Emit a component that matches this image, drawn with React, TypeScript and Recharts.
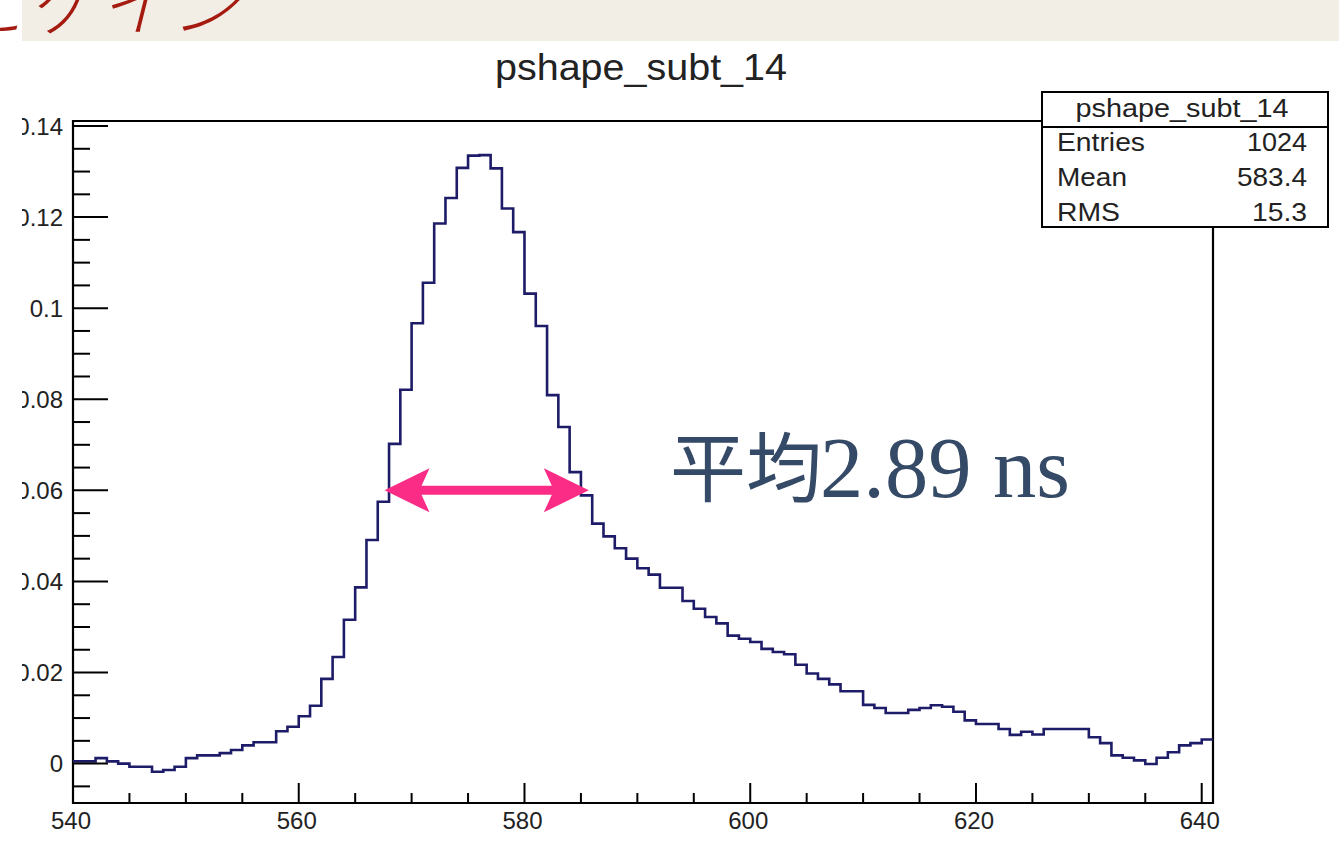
import React from "react";
import { LineChart, Line, XAxis, YAxis, ReferenceArea, ReferenceLine } from "recharts";

// bin contents of pshape_subt_14, one bin per ns
const bins540 = [0.0005, 0.0005, 0.0012, 0.0005, 0.0, -0.0007, -0.0007, -0.0018, -0.0014, -0.0007, 0.0012, 0.0018, 0.0018, 0.0023, 0.003, 0.004, 0.0047, 0.0047, 0.0071, 0.0081];
const bins560 = [0.0104, 0.0127, 0.0186, 0.0234, 0.0316, 0.0387, 0.0491, 0.0575, 0.0702, 0.0821, 0.0967, 0.1056, 0.1186, 0.1242, 0.1308, 0.1335, 0.1336, 0.1307, 0.1219, 0.1167];
const bins580 = [0.1032, 0.0961, 0.0809, 0.0739, 0.064, 0.0589, 0.0527, 0.0499, 0.0473, 0.045, 0.0429, 0.0415, 0.0386, 0.0386, 0.0357, 0.034, 0.0322, 0.0308, 0.0281, 0.0274];
const bins600 = [0.0267, 0.0252, 0.0245, 0.024, 0.0217, 0.0198, 0.0186, 0.0174, 0.0159, 0.0159, 0.0129, 0.0122, 0.0111, 0.0111, 0.0118, 0.0122, 0.0128, 0.0125, 0.0114, 0.0095];
const bins620 = [0.0087, 0.0087, 0.0076, 0.0063, 0.007, 0.0064, 0.0076, 0.0076, 0.0076, 0.0076, 0.0058, 0.0045, 0.0018, 0.0013, 0.0007, -0.0001, 0.0013, 0.0025, 0.004, 0.0045];
const bins640 = [0.0053];

const X_FIRST = 540;
const X_LAST = 641;
const Y_RANGE = [-0.00865, 0.1411];

const xTicks = [540, 545, 550, 555, 560, 565, 570, 575, 580, 585, 590, 595, 600, 605, 610, 615, 620, 625, 630, 635, 640];
const yTicks = [-0.005, 0, 0.005, 0.01, 0.015, 0.02, 0.025, 0.03, 0.035, 0.04, 0.045, 0.05, 0.055, 0.06, 0.065, 0.07, 0.075, 0.08, 0.085, 0.09, 0.095, 0.1, 0.105, 0.11, 0.115, 0.12, 0.125, 0.13, 0.135, 0.14];

const statsLabels = ["Entries", "Mean", "RMS"];
const statsValues = ["1024", "583.4", "15.3"];
// text widths as they appear in the stats box
const statsLabelWidths = [88, 70, 63];
const statsValueWidths = [60, 70, 55];

// FWHM marker
const fwhmFrom = 567.6;
const fwhmTo = 585.7;
const fwhmLevel = 0.06;

const SANS = '"Liberation Sans", Arial, Helvetica, sans-serif';
const LINE = "#1e1c68";
const PINK = "#fb2c86";

const values = [...bins540, ...bins560, ...bins580, ...bins600, ...bins620, ...bins640];
// step outline: each bin starts at its low edge, last row closes the final bin
const data = values.map((v, i) => ({ x: X_FIRST + i, v }));
data.push({ x: X_LAST, v: values[values.length - 1] });

const isMajor = (v: number, step: number) => Math.abs(v / step - Math.round(v / step)) < 1e-6;

const XTick = ({ x, y, payload }: any) => {
  const major = isMajor(payload.value, 20);
  return (
    <g>
      <line x1={x} y1={y} x2={x} y2={y - (major ? 20 : 10)} stroke="#000" strokeWidth={2} />
      {major && (
        <text x={x - 2} y={y + 26} textAnchor="middle" fontSize={24} fontFamily={SANS} fill="#222">
          {payload.value}
        </text>
      )}
    </g>
  );
};

const YTick = ({ x, y, payload }: any) => {
  const major = isMajor(payload.value, 0.02);
  return (
    <g>
      <line x1={x} y1={y} x2={x + (major ? 35 : 17)} y2={y} stroke="#000" strokeWidth={2} />
      {major && payload.value >= 0 && (
        <text x={x - 10} y={y} dy={8.5} textAnchor="end" fontSize={24} fontFamily={SANS} fill="#222">
          {String(+payload.value.toFixed(2))}
        </text>
      )}
    </g>
  );
};

const ArrowShape = (p: any) => {
  const { x1, x2, y1 } = p;
  const y = y1;
  const L = 45;
  const H = 22;
  const n = 8;
  const t = 4.5;
  const d = `M${x1},${y} L${x1 + L},${y - H} L${x1 + L - n},${y - t} L${x2 - L + n},${y - t} L${x2 - L},${y - H} L${x2},${y} L${x2 - L},${y + H} L${x2 - L + n},${y + t} L${x1 + L - n},${y + t} L${x1 + L},${y + H} Z`;
  return <path d={d} fill={PINK} />;
};

export default function App() {
  return (
    <div style={{ position: "absolute", left: 0, top: 0, width: 1339, height: 860, overflow: "hidden", background: "#fff" }}>
      {/* slide title strip */}
      <div style={{ position: "absolute", left: 22, top: 0, width: 1317, height: 41, background: "#f2eee6" }} />
      <svg width={1339} height={41} style={{ position: "absolute", left: 0, top: 0 }}>
        <text x={-44} y={30} fontSize={72} fontStyle="italic" fontWeight={300} fontFamily='"Noto Sans CJK JP", sans-serif' fill="#a51b10">
          とゲイン
        </text>
      </svg>

      {/* ROOT canvas, cropped on the left */}
      <div style={{ position: "absolute", left: 22, top: 41, width: 1317, height: 819, overflow: "hidden" }}>
        <div style={{ position: "absolute", left: -22, top: -41, width: 1339, height: 860 }}>
          <LineChart width={1339} height={860} data={data} margin={{ top: 121, right: 126, bottom: 17, left: 13 }}>
            <XAxis
              type="number"
              dataKey="x"
              domain={[X_FIRST, X_LAST]}
              ticks={xTicks}
              interval={0}
              allowDataOverflow
              axisLine={false}
              tickLine={false}
              tickSize={0}
              tickMargin={0}
              height={40}
              tick={<XTick />}
            />
            <YAxis
              type="number"
              domain={Y_RANGE}
              ticks={yTicks}
              interval={0}
              allowDataOverflow
              axisLine={false}
              tickLine={false}
              tickSize={0}
              tickMargin={0}
              width={60}
              tick={<YTick />}
            />
            <ReferenceArea x1={X_FIRST} x2={X_LAST} y1={Y_RANGE[0]} y2={Y_RANGE[1]} fill="none" fillOpacity={0} stroke="#000" strokeWidth={2.2} />
            <Line dataKey="v" type="stepAfter" stroke={LINE} strokeWidth={2.6} dot={false} isAnimationActive={false} />
            <ReferenceLine
              segment={[
                { x: fwhmFrom, y: fwhmLevel },
                { x: fwhmTo, y: fwhmLevel },
              ]}
              shape={ArrowShape}
            />
          </LineChart>

          <svg width={1339} height={860} style={{ position: "absolute", left: 0, top: 0, pointerEvents: "none" }}>
            <text x={641} y={80} textAnchor="middle" fontSize={36} fontFamily={SANS} fill="#222" textLength={292} lengthAdjust="spacingAndGlyphs">
              pshape_subt_14
            </text>

            <rect x={1042} y={92} width={286} height={135} fill="#fff" stroke="#000" strokeWidth={2} />
            <line x1={1042} y1={127} x2={1328} y2={127} stroke="#000" strokeWidth={2} />
            <text x={1182} y={117} textAnchor="middle" fontSize={25} fontFamily={SANS} fill="#222" textLength={213} lengthAdjust="spacingAndGlyphs">
              pshape_subt_14
            </text>
            {statsLabels.map((k, i) => (
              <g key={k}>
                <text x={1057} y={151 + i * 35} fontSize={25} fontFamily={SANS} fill="#222" textLength={statsLabelWidths[i]} lengthAdjust="spacingAndGlyphs">
                  {k}
                </text>
                <text x={1307} y={151 + i * 35} textAnchor="end" fontSize={25} fontFamily={SANS} fill="#222" textLength={statsValueWidths[i]} lengthAdjust="spacingAndGlyphs">
                  {statsValues[i]}
                </text>
              </g>
            ))}

            <text x={670} y={496} fontSize={76} fontFamily='"Noto Sans CJK JP", sans-serif' fill="#354a66">
              平均
            </text>
            <text x={820} y={497} fontSize={86} fontFamily='"Liberation Serif", "DejaVu Serif", serif' fill="#354a66" textLength={250} lengthAdjust="spacingAndGlyphs">
              2.89 ns
            </text>
          </svg>
        </div>
      </div>
    </div>
  );
}
